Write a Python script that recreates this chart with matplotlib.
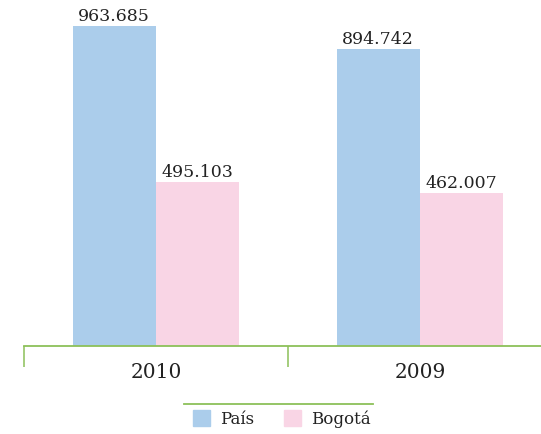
import matplotlib.pyplot as plt
import matplotlib.patches as mpatches
import numpy as np

years = ["2010", "2009"]
pais = [963685, 894742]
bogota = [495103, 462007]
series_names = ["País", "Bogotá"]

BLUE = "#abcdeb"
PINK = "#f9d5e5"
GREEN = "#8cc059"
TEXT = "#222222"

plt.rcParams['font.family'] = ['DejaVu Serif']

W, H = 541, 434
fig = plt.figure(figsize=(W / 100, H / 100), dpi=100)

# axis spans x 24..552 px, baseline at y=346 px
ax = fig.add_axes([24 / W, (H - 346) / H, 528 / W, 346 / H])

x = np.arange(len(years))
bw = 0.316
b1 = ax.bar(x - bw / 2, pais, bw, color=BLUE)
b2 = ax.bar(x + bw / 2, bogota, bw, color=PINK)

def fmt(v):
    return f"{v:,}".replace(",", ".")

for bars, vals in ((b1, pais), (b2, bogota)):
    for r, v in zip(bars, vals):
        ax.text(r.get_x() + r.get_width() / 2, v + 3000, fmt(v),
                ha="center", va="bottom", fontsize=12.5, color=TEXT)

ax.set_xlim(-0.5, 1.5)
ax.set_ylim(0, 963685 * 346 / 320)

for s in ["top", "right", "left"]:
    ax.spines[s].set_visible(False)
ax.spines["bottom"].set_color(GREEN)
ax.spines["bottom"].set_linewidth(1.3)
ax.set_yticks([])

ax.set_xticks([-0.5, 0.5, 1.5])
ax.set_xticklabels([])
ax.tick_params(axis="x", length=15, color=GREEN, width=1.1)
ax.set_xticks(x, minor=True)
ax.set_xticklabels(years, minor=True, fontsize=14.5, color=TEXT)
ax.tick_params(axis="x", which="minor", length=0, pad=12)

# legend with green line above
fig.add_artist(plt.Line2D([184 / W, 373 / W], [(H - 404) / H] * 2,
                          color=GREEN, linewidth=1.3))
handles = [mpatches.Patch(color=BLUE), mpatches.Patch(color=PINK)]
fig.legend(handles, series_names, loc="center", bbox_to_anchor=(282 / W, (H - 419) / H),
           ncol=2, frameon=False, fontsize=12, handlelength=1.0, handleheight=1.1,
           handletextpad=0.6, columnspacing=1.8, labelcolor=TEXT)

fig.savefig("out.png", dpi=100)
